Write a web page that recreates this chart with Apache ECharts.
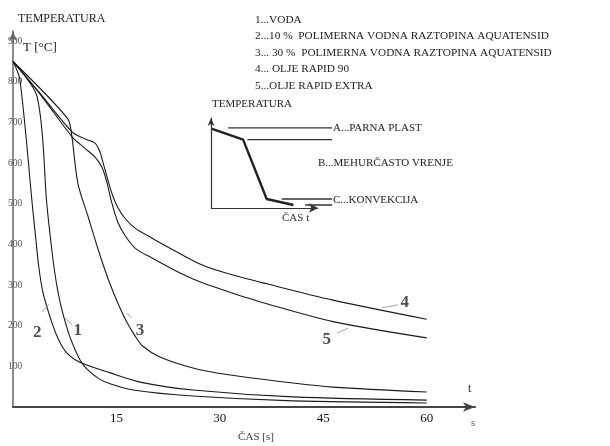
<!DOCTYPE html>
<html>
<head>
<meta charset="utf-8">
<script src="https://cdn.jsdelivr.net/npm/echarts@6/dist/echarts.min.js"></script>
<style>
  html, body { margin: 0; padding: 0; background: #fff; }
  #main { width: 610px; height: 446px; }
</style>
</head>
<body>
<div id="main"></div>
<script>
// cooling curves [time s, temperature °C]
var voda = [[0, 850], [3.5, 763], [4.9, 500], [5.4, 420], [5.9, 350], [6.5, 285], [7.2, 232], [8.3, 170], [9.7, 116], [10.7, 94], [12.6, 68], [14.1, 57], [17.4, 42], [26.1, 27], [40.6, 15], [60, 10]];
var aqua10 = [[0, 850], [1.0, 805], [2.9, 480], [3.3, 415], [3.7, 350], [4.3, 285], [5.4, 220], [6.5, 170], [7.8, 133], [9.7, 110], [14.1, 84], [18.8, 60], [26.1, 42], [40.6, 25], [60, 17]];
var aqua30 = [[0, 850], [7.9, 710], [8.5, 670], [9.4, 551], [10.9, 468], [12.3, 390], [13.8, 315], [15.2, 256], [16.5, 209], [17.7, 175], [18.8, 150], [21.3, 123], [26.1, 96], [31, 80], [40.6, 59], [46.4, 49], [60, 37]];
var rapid90 = [[0, 850], [3.9, 772], [8.6, 676], [10.4, 660], [11.9, 649], [12.6, 628], [13.0, 605], [13.8, 556], [14.5, 518], [15.2, 491], [16.2, 465], [17.7, 440], [20.1, 416], [23.5, 384], [27.1, 352], [31, 329], [36.8, 303], [46.4, 263], [60, 216]];
var rapidExtra = [[0, 850], [4, 768], [8.6, 664], [10.4, 637], [11.9, 615], [12.9, 590], [13.6, 554], [14.3, 504], [15.2, 455], [16.2, 423], [17.7, 391], [20.1, 367], [23.5, 336], [27.1, 308], [31, 285], [36.8, 254], [46.4, 210], [60, 170]];

// curve numbers and their leader lines
var tags = [['1', 9.4, 189], ['2', 3.5, 184], ['3', 18.4, 189], ['4', 56.8, 256], ['5', 45.5, 165]];
var leaders = [[[7.5, 219], [8.6, 202]], [[4.2, 234], [5.2, 253]], [[16.5, 231], [17.2, 219]], [[53.5, 244], [55.8, 251]], [[47, 182], [48.6, 194]]];

var legendLines = ['1...VODA', '2...10 %  POLIMERNA VODNA RAZTOPINA AQUATENSID', '3... 30 %  POLIMERNA VODNA RAZTOPINA AQUATENSID', '4... OLJE RAPID 90', '5...OLJE RAPID EXTRA'];

// inset sketch
var insetCurve = [[0.1, 8.8], [3.0, 7.6], [5.2, 1.0], [7.7, 0.33]];
var insetLevels = [[1.6, 11.3, 8.9], [3.4, 11.3, 7.6], [6.6, 11.3, 1.0], [8.8, 11.3, 0.33]];
var insetTimeEnd = 10;

var serif = '"Liberation Serif", "DejaVu Serif", serif';
var chart = echarts.init(document.getElementById('main'));

function curve(name, data) {
  return {
    name: name, type: 'line', xAxisIndex: 0, yAxisIndex: 0,
    data: data, symbol: 'none', smooth: 0.3,
    lineStyle: { color: '#1a1a1a', width: 1.1 }
  };
}

function txt(text, x, y, size, color, align) {
  return {
    type: 'text', silent: true,
    style: {
      text: text, x: x, y: y, font: size + 'px ' + serif,
      fill: color || '#111', align: align || 'left', verticalAlign: 'middle'
    }
  };
}

var graphics = [
  txt('TEMPERATURA', 18, 19, 12, '#222'),
  txt('T [°C]', 23, 48, 13, '#222'),
  txt('ČAS [s]', 256, 437, 11, '#444', 'center'),
  txt('t', 468, 389, 12, '#333'),
  txt('s', 471, 423, 10, '#555'),
  txt('TEMPERATURA', 212, 104, 11, '#222'),
  txt('A...PARNA PLAST', 333, 128, 11, '#222'),
  txt('B...MEHURČASTO VRENJE', 318, 163, 11, '#222'),
  txt('C...KONVEKCIJA', 333, 200, 11, '#222'),
  txt('ČAS t', 282, 218, 11, '#333')
];
legendLines.forEach(function (s, i) {
  graphics.push(txt(s, 255, 20 + i * 16.5, 11.3, '#222'));
});

var series = [
  curve('1', voda),
  curve('2', aqua10),
  curve('3', aqua30),
  curve('4', rapid90),
  curve('5', rapidExtra),
  {
    type: 'scatter', xAxisIndex: 0, yAxisIndex: 0, symbolSize: 0,
    data: tags.map(function (d) { return { value: [d[1], d[2]], name: d[0] }; }),
    label: {
      show: true, position: 'inside', formatter: '{b}',
      fontFamily: serif, fontWeight: 'bold', fontSize: 17, color: '#222'
    },
    markLine: {
      silent: true, symbol: 'none', label: { show: false },
      lineStyle: { color: '#888', width: 0.8, type: 'solid' },
      data: leaders.map(function (l) { return [{ coord: l[0] }, { coord: l[1] }]; })
    }
  },
  {
    type: 'line', xAxisIndex: 1, yAxisIndex: 1, data: insetCurve,
    symbol: 'none', lineStyle: { color: '#222', width: 2.4 },
    markLine: {
      silent: true, symbol: ['none', 'arrow'], symbolSize: [7, 9], label: { show: false },
      lineStyle: { color: '#333', width: 1.2, type: 'solid' },
      data: [[{ coord: [0, 0] }, { coord: [insetTimeEnd, 0] }]]
    }
  }
];
insetLevels.forEach(function (l) {
  series.push({
    type: 'line', xAxisIndex: 1, yAxisIndex: 1, data: [[l[0], l[2]], [l[1], l[2]]],
    symbol: 'none', lineStyle: { color: '#333', width: 1.4 }
  });
});

var option = {
  animation: false,
  backgroundColor: '#fff',
  grid: [
    { left: 13, top: 31, width: 462, height: 376 },
    { left: 211, top: 118, width: 121, height: 90 }
  ],
  xAxis: [
    {
      type: 'value', gridIndex: 0, min: 0, max: 67, interval: 15,
      axisLine: { lineStyle: { color: '#444', width: 2 }, symbol: ['none', 'arrow'], symbolSize: [7, 12] },
      axisTick: { show: false }, splitLine: { show: false },
      axisLabel: { showMinLabel: false, showMaxLabel: false, color: '#111', fontSize: 13, fontFamily: serif, margin: 5 }
    },
    {
      type: 'value', gridIndex: 1, min: 0, max: 11.3,
      axisLine: { show: false }, axisTick: { show: false }, splitLine: { show: false }, axisLabel: { show: false }
    }
  ],
  yAxis: [
    {
      type: 'value', gridIndex: 0, min: 0, max: 925, interval: 100,
      axisLine: { show: true, lineStyle: { color: '#666', width: 1.5 }, symbol: ['none', 'arrow'], symbolSize: [6, 10] },
      axisTick: { show: false }, splitLine: { show: false },
      axisLabel: { showMinLabel: false, showMaxLabel: false, align: 'center', margin: -2, color: '#555', fontSize: 9.5, fontFamily: serif }
    },
    {
      type: 'value', gridIndex: 1, min: 0, max: 10,
      axisLine: { show: true, lineStyle: { color: '#333', width: 1.2 }, symbol: ['none', 'arrow'], symbolSize: [5, 8] },
      axisTick: { show: false }, splitLine: { show: false }, axisLabel: { show: false }
    }
  ],
  graphic: graphics,
  series: series
};
chart.setOption(option);
</script>
</body>
</html>
